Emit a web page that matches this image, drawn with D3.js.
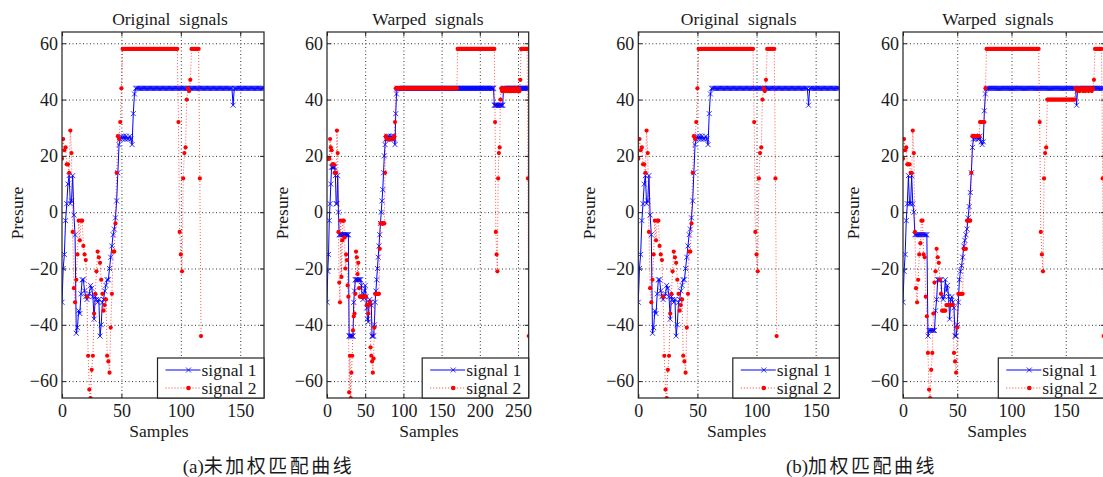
<!DOCTYPE html>
<html>
<head>
<meta charset="utf-8">
<script src="https://cdn.jsdelivr.net/npm/d3@7"></script>
<style>
  html, body { margin: 0; padding: 0; background: #fff; }
  svg text { font-family: "Liberation Serif", "Times New Roman", serif !important; fill: #1a1a1a; }
  svg text.caption { font-family: "Liberation Serif", "Noto Sans CJK SC", serif !important; }
</style>
</head>
<body>
<div id="chart"></div>
<script>
// tick labels
const yTicks = [-60, -40, -20, 0, 20, 40, 60];
const origTicks = [0, 50, 100, 150];
const warpATicks = [0, 50, 100, 150, 200, 250];
const warpBTicks = [0, 50, 100, 150];

const titles = ['Original  signals', 'Warped  signals'];
const seriesNames = ['signal 1', 'signal 2'];
const captionTags = ['(a)', '(b)'];
const captions = ['未加权匹配曲线', '加权匹配曲线'];

// original signals (same in a and b)
const signal1 = [
  -32,-20,-15,-3,3,10,13,3,4,13,
  -1,-8,-43,-41,-35,-36,-29,-24,-24,-28,
  -30,-31,-30,-29,-26,-27,-30,-38,-30,-31,
  -32,-31,-44,-40,-32,-31,-28,-26,-24,-24,
  -20,-16,-12,-8,-6,-2,4,14,24,26,
  27,26,27,26,27,26,26,27,26,24,
  35,42,44,44,44,44,44,44,44,44,
  44,44,44,44,44,44,44,44,44,44,
  44,44,44,44,44,44,44,44,44,44,
  44,44,44,44,44,44,44,44,44,44,
  44,44,44,44,44,44,44,44,44,44,
  44,44,44,44,44,44,44,44,44,44,
  44,44,44,44,44,44,44,44,44,44,
  44,44,44,44,44,44,44,44,44,44,
  44,44,44,44,38,44,44,44,44,44,
  44,44,44,44,44,44,44,44,44,44,
  44,44,44,44,44,44,44,44,44,44,
  44
];
const signal2 = [
  19,26,22,23,17,17,14,29,21,-7,
  -27,-32,-24,-15,-3,-10,-3,-3,-12,-15,
  -17,-30,-51,-63,-66,-56,-51,-36,-29,-21,
  -14,-16,-18,-24,-29,-35,-33,-31,-51,-53,
  -57,-41,-29,-14,-14,-4,14,27,26,32,
  44,58,58,58,58,58,58,58,58,58,
  58,58,58,58,58,58,58,58,58,58,
  58,58,58,58,58,58,58,58,58,58,
  58,58,58,58,58,58,58,58,58,58,
  58,58,58,58,58,58,58,58,32,-7,
  -15,-21,12,21,23,40,44,43,47,58,
  58,58,58,58,58,58,12,-44
];

// (a) warped signals, no weighting
const warpedA1 = [
  -32,-21,-15,-3,3,10,16,16,16,16,
  16,13,3,3,13,0,-8,-8,-8,-8,
  -8,-8,-8,-8,-8,-8,-8,-8,-8,-44,
  -44,-44,-44,-44,-44,-32,-28,-24,-24,-24,
  -24,-24,-24,-24,-24,-26,-30,-31,-29,-28,
  -26,-30,-34,-38,-39,-32,-31,-32,-33,-44,
  -44,-44,-40,-32,-28,-24,-20,-16,-12,-8,
  -4,0,4,8,14,20,24,26,26,27,
  26,27,26,26,27,26,26,27,26,24,
  35,42,44,44,44,44,44,44,44,44,
  44,44,44,44,44,44,44,44,44,44,
  44,44,44,44,44,44,44,44,44,44,
  44,44,44,44,44,44,44,44,44,44,
  44,44,44,44,44,44,44,44,44,44,
  44,44,44,44,44,44,44,44,44,44,
  44,44,44,44,44,44,44,44,44,44,
  44,44,44,44,44,44,44,44,44,44,
  44,44,44,44,44,44,44,44,44,44,
  44,44,44,44,44,44,44,44,44,44,
  44,44,44,44,44,44,44,44,44,44,
  44,44,44,44,44,44,44,44,44,44,
  44,44,44,44,44,44,44,44,44,38,
  38,38,38,38,38,38,38,38,38,38,
  38,44,44,44,44,44,44,44,44,44,
  44,44,44,44,44,44,44,44,44,44,
  44,44,44,44,44,44,44,44,44,44,
  44,44,44,44,44
];
const warpedA2 = [
  19,19,19,19,26,23,22,17,17,17,
  14,14,14,29,21,-7,-25,-32,-3,-23,
  -10,-3,-3,-9,-20,-15,-17,-26,-30,-64,
  -51,-66,-57,-51,-42,-37,-36,-29,-14,-16,
  -22,-18,-27,-30,-30,-30,-30,-30,-30,-30,
  -30,-30,-33,-33,-36,-33,-32,-48,-51,-53,
  -57,-52,-41,-29,-29,-29,-29,-29,-29,-13,
  -4,-4,-4,-4,-4,-4,14,27,26,26,
  26,26,26,26,26,26,26,26,27,32,
  44,44,44,44,44,44,44,44,44,44,
  44,44,44,44,44,44,44,44,44,44,
  44,44,44,44,44,44,44,44,44,44,
  44,44,44,44,44,44,44,44,44,44,
  44,44,44,44,44,44,44,44,44,44,
  44,44,44,44,44,44,44,44,44,44,
  44,44,44,44,44,44,44,44,44,44,
  44,44,44,44,44,44,44,44,44,44,
  44,58,58,58,58,58,58,58,58,58,
  58,58,58,58,58,58,58,58,58,58,
  58,58,58,58,58,58,58,58,58,58,
  58,58,58,58,58,58,58,58,58,58,
  58,58,58,58,58,58,58,58,58,58,
  32,-7,-15,-21,12,21,23,40,44,43,
  44,43,44,43,43,44,43,44,43,43,
  44,43,43,44,43,43,44,43,44,43,
  43,44,43,47,58,58,58,58,58,58,
  58,58,58,12,-44
];

// (b) warped signals, weighted
const warpedB1 = [
  -32,-21,-15,-3,3,13,3,3,13,3,
  0,-8,-8,-8,-8,-8,-8,-8,-8,-8,
  -8,-8,-8,-44,-42,-42,-42,-42,-42,-42,
  -35,-31,-24,-24,-24,-24,-30,-31,-30,-24,
  -28,-26,-30,-38,-31,-30,-32,-34,-44,-44,
  -40,-32,-24,-21,-19,-16,-12,-10,-8,-6,
  -2,2,7,14,23,26,27,26,27,26,
  26,27,25,24,25,36,42,44,44,44,
  44,44,44,44,44,44,44,44,44,44,
  44,44,44,44,44,44,44,44,44,44,
  44,44,44,44,44,44,44,44,44,44,
  44,44,44,44,44,44,44,44,44,44,
  44,44,44,44,44,44,44,44,44,44,
  44,44,44,44,44,44,44,44,44,44,
  44,44,44,44,44,44,44,44,44,44,
  44,44,44,44,44,44,44,44,44,44,
  38,44,44,44,44,44,44,44,44,44,
  44,44,44,44,44,44,44,44,44,44,
  44,44,44,44,44,44
];
const warpedB2 = [
  19,26,22,23,17,17,17,14,14,29,
  21,-7,-27,-32,-24,-15,-11,-3,-3,-15,
  -16,-30,-37,-50,-63,-66,-56,-50,-36,-25,
  -21,-13,-16,-18,-24,-29,-35,-35,-35,-35,
  -33,-33,-33,-33,-33,-33,-33,-50,-53,-57,
  -41,-29,-29,-29,-29,-29,-13,-13,-13,-3,
  -3,-3,-3,14,27,27,27,27,27,27,
  27,32,32,32,32,32,44,58,58,58,
  58,58,58,58,58,58,58,58,58,58,
  58,58,58,58,58,58,58,58,58,58,
  58,58,58,58,58,58,58,58,58,58,
  58,58,58,58,58,58,58,58,58,58,
  58,58,58,58,58,58,32,-7,-15,-21,
  12,21,23,40,40,40,40,40,40,40,
  40,40,40,40,40,40,40,40,40,40,
  40,40,40,40,40,40,40,40,40,44,
  44,43,44,43,44,44,43,44,43,44,
  44,43,44,44,43,44,47,58,58,58,
  58,58,58,58,12,-44
];

const width = 1103, height = 477;
const plotTop = 32, plotBottom = 398;
const blue = '#0000ff', red = '#ff0000';
const serif = '"Liberation Serif", "Times New Roman", serif';

const y = d3.scaleLinear().domain([-66, 64]).range([plotBottom, plotTop]);

const panels = [
  { left: 62,    right: 264,    xMax: 170, ticks: origTicks,  s1: signal1,  s2: signal2,  title: titles[0], titleX: 170,   xLabelX: 159,   yLabelX: 17 },
  { left: 327,   right: 528.7,  xMax: 264, ticks: warpATicks, s1: warpedA1, s2: warpedA2, title: titles[1], titleX: 428,   xLabelX: 429,   yLabelX: 282 },
  { left: 638.3, right: 839.3,  xMax: 170, ticks: origTicks,  s1: signal1,  s2: signal2,  title: titles[0], titleX: 738.7, xLabelX: 736.7, yLabelX: 589 },
  { left: 903,   right: 1104.8, xMax: 186, ticks: warpBTicks, s1: warpedB1, s2: warpedB2, title: titles[1], titleX: 998,   xLabelX: 997,   yLabelX: 853 }
];

const svg = d3.select('#chart').append('svg')
  .attr('width', width)
  .attr('height', height)
  .attr('font-family', serif);

svg.append('rect').attr('width', width).attr('height', height).attr('fill', '#fff');

const xMark = 'M-2.5,-2.5L2.5,2.5M-2.5,2.5L2.5,-2.5';

function drawSeries(g, data, x, color, isRed) {
  const line = d3.line()
    .x((d, i) => x(i))
    .y(d => y(d));

  g.append('path')
    .datum(data)
    .attr('d', line)
    .attr('fill', 'none')
    .attr('stroke', color)
    .attr('stroke-width', isRed ? 0.8 : 1)
    .attr('stroke-dasharray', isRed ? '1,2' : null)
    .attr('opacity', isRed ? 0.85 : 1);

  if (isRed) {
    g.selectAll(null)
      .data(data)
      .enter()
      .append('circle')
      .attr('cx', (d, i) => x(i))
      .attr('cy', d => y(d))
      .attr('r', 2.1)
      .attr('fill', color);
  } else {
    g.selectAll(null)
      .data(data)
      .enter()
      .append('path')
      .attr('d', xMark)
      .attr('transform', (d, i) => `translate(${x(i)},${y(d)})`)
      .attr('stroke', color)
      .attr('stroke-width', 0.8)
      .attr('fill', 'none');
  }
}

panels.forEach((p, i) => {
  const x = d3.scaleLinear().domain([0, p.xMax]).range([p.left, p.right]);
  const w = p.right - p.left, h = plotBottom - plotTop;
  const g = svg.append('g');

  svg.append('clipPath').attr('id', 'clip' + i)
    .append('rect')
      .attr('x', p.left).attr('y', plotTop)
      .attr('width', w).attr('height', h);

  g.append('rect')
    .attr('x', p.left).attr('y', plotTop)
    .attr('width', w).attr('height', h)
    .attr('fill', '#fff');

  // dotted grid
  const grid = g.append('g');
  grid.append('g')
    .attr('transform', `translate(0,${plotBottom})`)
    .call(d3.axisBottom(x).tickValues(p.ticks.filter(t => t > 0)).tickSize(-h).tickFormat(''));
  grid.append('g')
    .attr('transform', `translate(${p.left},0)`)
    .call(d3.axisLeft(y).tickValues(yTicks).tickSize(-w).tickFormat(''));
  grid.selectAll('.domain').remove();
  grid.selectAll('line')
    .attr('stroke', '#333')
    .attr('stroke-width', 1)
    .attr('stroke-dasharray', '1,2.5');

  const plot = g.append('g').attr('clip-path', `url(#clip${i})`);
  drawSeries(plot, p.s1, x, blue, false);
  drawSeries(plot, p.s2, x, red, true);

  // box
  g.append('rect')
    .attr('x', p.left).attr('y', plotTop)
    .attr('width', w).attr('height', h)
    .attr('fill', 'none')
    .attr('stroke', '#222')
    .attr('stroke-width', 1.2);

  // axes with inward ticks
  const axB = g.append('g').attr('transform', `translate(0,${plotBottom})`)
    .call(d3.axisBottom(x).tickValues(p.ticks).tickSizeInner(-4).tickSizeOuter(0).tickPadding(6));
  const axT = g.append('g').attr('transform', `translate(0,${plotTop})`)
    .call(d3.axisTop(x).tickValues(p.ticks).tickSizeInner(-4).tickSizeOuter(0).tickFormat(''));
  const axL = g.append('g').attr('transform', `translate(${p.left},0)`)
    .call(d3.axisLeft(y).tickValues(yTicks).tickSizeInner(-4).tickSizeOuter(0).tickPadding(4));
  const axR = g.append('g').attr('transform', `translate(${p.right},0)`)
    .call(d3.axisRight(y).tickValues(yTicks).tickSizeInner(-4).tickSizeOuter(0).tickFormat(''));
  [axB, axT, axL, axR].forEach(a => {
    a.attr('font-family', serif).attr('font-size', 18);
    a.select('.domain').remove();
    a.selectAll('line').attr('stroke', '#222');
    a.selectAll('text').attr('fill', '#1a1a1a');
  });

  // titles and labels
  g.append('text')
    .attr('x', p.titleX).attr('y', 24.5)
    .attr('text-anchor', 'middle')
    .attr('xml:space', 'preserve')
    .style('white-space', 'pre')
    .attr('font-size', 17.5)
    .text(p.title);

  g.append('text')
    .attr('x', p.xLabelX).attr('y', 437)
    .attr('text-anchor', 'middle')
    .attr('font-size', 17.5)
    .text('Samples');

  g.append('text')
    .attr('transform', `translate(${p.yLabelX},213) rotate(-90)`)
    .attr('text-anchor', 'middle')
    .attr('dominant-baseline', 'central')
    .attr('font-size', 17.5)
    .text('Presure');

  // legend in lower-right corner
  const lw = 106.5, lh = 40;
  const lg = g.append('g').attr('transform', `translate(${p.right - lw},${plotBottom - lh})`);
  lg.append('rect')
    .attr('width', lw).attr('height', lh)
    .attr('fill', '#fff')
    .attr('stroke', '#222')
    .attr('stroke-width', 1.2);
  seriesNames.forEach((name, k) => {
    const ly = 12 + k * 18;
    const color = k === 0 ? blue : red;
    lg.append('line')
      .attr('x1', 8).attr('x2', 43)
      .attr('y1', ly).attr('y2', ly)
      .attr('stroke', color)
      .attr('stroke-width', k === 0 ? 1 : 0.8)
      .attr('stroke-dasharray', k === 0 ? null : '1,2');
    if (k === 0) {
      lg.append('path').attr('d', xMark)
        .attr('transform', `translate(31,${ly})`)
        .attr('stroke', color).attr('stroke-width', 0.8);
    } else {
      lg.append('circle').attr('cx', 31).attr('cy', ly).attr('r', 2.3).attr('fill', color);
    }
    lg.append('text')
      .attr('x', 44).attr('y', ly)
      .attr('dominant-baseline', 'central')
      .attr('font-size', 17.5)
      .text(name);
  });
});

// sub-figure captions
const captionX = [268.5, 861.5];
captions.forEach((c, k) => {
  const t = svg.append('text')
    .attr('class', 'caption')
    .attr('x', captionX[k]).attr('y', 473)
    .attr('text-anchor', 'middle')
    .attr('font-size', 19);
  t.append('tspan').text(captionTags[k]);
  t.append('tspan').style('letter-spacing', '2.5px').text(c);
});
</script>
</body>
</html>
